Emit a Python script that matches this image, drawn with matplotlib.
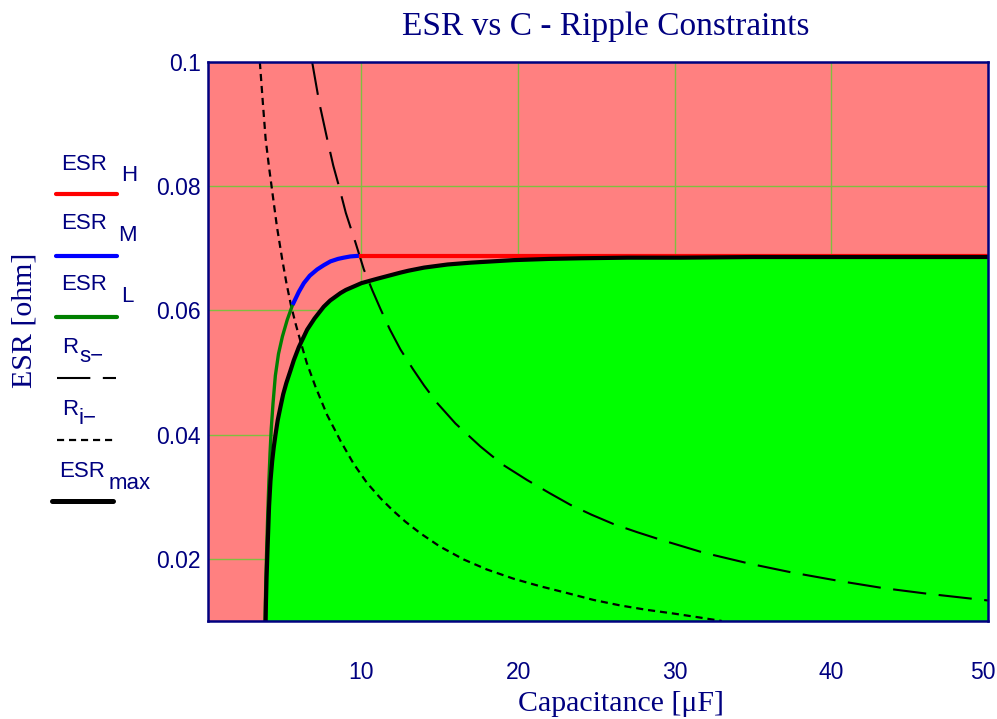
import matplotlib
matplotlib.use('Agg')
import matplotlib.pyplot as plt
import matplotlib.transforms as mtransforms

# values (C in uF, ESR in ohm)
esr_max_c = [3.88, 3.90, 3.94, 4.00, 4.10, 4.19, 4.30, 4.40, 4.51, 4.65, 4.83,
             5.00, 5.20, 5.45, 5.68, 6.00, 6.53, 7.00, 7.59, 8.00, 8.66, 9.00,
             9.73, 10.0, 11.0, 12.5, 13.0, 14.0, 15.5, 17.0, 19.7, 22.0, 24.0,
             27.0, 30.4, 35.0, 40.0, 50.0]
esr_max = [0.0100, 0.0130, 0.0170, 0.0215, 0.0285, 0.0326, 0.0358, 0.0380, 0.0400,
           0.0423, 0.0445, 0.0465, 0.0483, 0.0502, 0.0520, 0.0541, 0.0569, 0.0587,
           0.0606, 0.0616, 0.0628, 0.0633, 0.0641, 0.0644, 0.0651, 0.0661, 0.0664,
           0.0669, 0.0674, 0.0677, 0.0681, 0.0683, 0.0684, 0.0685, 0.0685, 0.0686,
           0.0686, 0.0686]

esr_l_c = [3.84, 3.88, 3.93, 4.00, 4.08, 4.16, 4.24, 4.35, 4.50, 4.70, 4.95,
           5.26, 5.60]
esr_l = [0.0100, 0.0150, 0.0200, 0.0260, 0.0320, 0.0370, 0.0410, 0.0450, 0.0495,
         0.0530, 0.0558, 0.0585, 0.0609]

esr_m_c = [5.60, 6.00, 6.32, 6.70, 7.17, 7.60, 8.02, 8.50, 8.87, 9.30, 9.83]
esr_m = [0.0609, 0.0630, 0.0644, 0.0656, 0.0666, 0.0673, 0.0679, 0.0683, 0.0685,
         0.0687, 0.0688]

esr_h_c = [9.83, 50.0]
esr_h = [0.0688, 0.0688]

rs_c = [6.85, 7.30, 7.81, 8.20, 8.56, 9.00, 9.62, 10.15, 10.7, 11.2, 11.8, 12.49,
        13.3, 14.0, 14.83, 16.0, 17.59, 19.0, 20.57, 22.0, 23.34, 24.7, 26.1,
        27.6, 29.08, 31.84, 34.83, 37.5, 40.6, 43.3, 46.1, 50.0]
rs = [0.1000, 0.0935, 0.0876, 0.0833, 0.0800, 0.0757, 0.0709, 0.0666, 0.0632,
      0.0603, 0.0570, 0.0537, 0.0505, 0.0479, 0.0451, 0.0418, 0.0381, 0.0352,
      0.0327, 0.0306, 0.0287, 0.0271, 0.0256, 0.0243, 0.0231, 0.0210, 0.0192,
      0.0178, 0.0164, 0.0153, 0.0144, 0.0133]

ri_c = [3.51, 3.70, 3.88, 4.10, 4.30, 4.60, 4.94, 5.20, 5.50, 5.80, 6.11, 6.50,
        7.05, 7.80, 8.66, 9.50, 10.36, 11.2, 12.0, 12.8, 13.77, 15.0, 16.53,
        18.0, 19.72, 21.4, 23.13, 24.8, 26.53, 28.2, 29.93, 31.5, 33.0]
ri = [0.1000, 0.0935, 0.0876, 0.0830, 0.0792, 0.0735, 0.0682, 0.0645, 0.0608,
      0.0578, 0.0550, 0.0516, 0.0478, 0.0432, 0.0390, 0.0353, 0.0322, 0.0298,
      0.0278, 0.0260, 0.0241, 0.0220, 0.0199, 0.0183, 0.0168, 0.0156, 0.0145,
      0.0134, 0.0125, 0.0118, 0.0112, 0.0106, 0.0100]

x_ticks = [10, 20, 30, 40, 50]
y_ticks = [0.02, 0.04, 0.06, 0.08, 0.1]
y_tick_labels = ['0.02', '0.04', '0.06', '0.08', '0.1']

NAVY = '#000080'
PINK = '#FF8080'
GREEN = '#00FF00'
GRID = '#7FBF3F'
W, H = 997, 719

fig = plt.figure(figsize=(W / 100, H / 100), dpi=100)
ax = fig.add_axes([208 / W, 1 - 621 / H, 780 / W, 559 / H])
ax.set_facecolor(PINK)

ax.fill_between(esr_max_c, esr_max, 0.0, color=GREEN, linewidth=0, zorder=1)

ax.plot(rs_c, rs, color='black', lw=1.5, dashes=(16, 6), zorder=3)
ax.plot(ri_c, ri, color='black', lw=1.6, dashes=(3.2, 2.2), zorder=3)
ax.plot(esr_l_c, esr_l, color='#008000', lw=2.4, zorder=4)
ax.plot(esr_m_c, esr_m, color='blue', lw=3, zorder=4, solid_capstyle='butt')
ax.plot(esr_h_c, esr_h, color='red', lw=3, zorder=4, solid_capstyle='butt')
ax.plot(esr_max_c, esr_max, color='black', lw=3, zorder=5)

ax.set_xlim(0.2, 50)
ax.set_ylim(0.01, 0.1)
ax.set_xticks(x_ticks)
ax.set_xticklabels([str(t) for t in x_ticks])
ax.set_yticks(y_ticks)
ax.set_yticklabels(y_tick_labels)
ax.tick_params(length=0, labelcolor=NAVY, labelsize=16.5)
ax.tick_params(axis='x', pad=29)
ax.tick_params(axis='y', pad=5)
for lbl in ax.get_xticklabels() + ax.get_yticklabels():
    lbl.set_fontfamily('Liberation Sans')
# keep the "50" inside the canvas
last = ax.get_xticklabels()[-1]
last.set_transform(last.get_transform() +
                   mtransforms.ScaledTranslation(-5 / 100, 0, fig.dpi_scale_trans))

ax.set_axisbelow(True)
ax.grid(True, color=GRID, lw=1.0)
for s in ax.spines.values():
    s.set_color(NAVY)
    s.set_linewidth(1.8)
    s.set_zorder(6)

fig.text(606 / W, 1 - 27 / H, 'ESR vs C - Ripple Constraints', ha='center', va='center',
         fontsize=24, color=NAVY, fontfamily='Liberation Serif')
fig.text(621 / W, 1 - 704 / H, 'Capacitance [\u03bcF]', ha='center', va='center',
         fontsize=21.5, color=NAVY, fontfamily='Liberation Serif')
fig.text(25 / W, 1 - 320 / H, 'ESR [ohm]', ha='center', va='center', rotation=90,
         fontsize=21.5, color=NAVY, fontfamily='Liberation Serif')

# legend drawn in pixel coordinates on an overlay axes
lg = fig.add_axes([0, 0, 1, 1])
lg.set_xlim(0, W)
lg.set_ylim(H, 0)
lg.axis('off')
lg.patch.set_alpha(0)

lg.plot([56, 117], [194, 194], color='red', lw=3, solid_capstyle='round')
lg.plot([56, 117], [256, 256], color='blue', lw=3, solid_capstyle='round')
lg.plot([56, 117], [317, 317], color='#008000', lw=3, solid_capstyle='round')
lg.plot([57, 116], [378, 378], color='black', lw=1.5, dashes=(16, 6))
lg.plot([57, 116], [440, 440], color='black', lw=1.6, dashes=(3.2, 2.2))
lg.plot([52, 113], [501, 501], color='black', lw=3.6, solid_capstyle='round')

legend_text = [
    ('ESR', 61, 170), ('H', 121, 181),
    ('ESR', 61, 229), ('M', 118, 241),
    ('ESR', 61, 290), ('L', 121, 302),
    ('R', 62, 353), ('s\u2212', 79, 362),
    ('R', 62, 415), ('i\u2212', 78, 424),
    ('ESR', 59, 477), ('max', 109, 489),
]
for txt, x, y in legend_text:
    lg.text(x, y, txt, ha='left', va='baseline', fontsize=16, color=NAVY,
            fontfamily='Liberation Sans')

fig.savefig('out.png', dpi=100)
